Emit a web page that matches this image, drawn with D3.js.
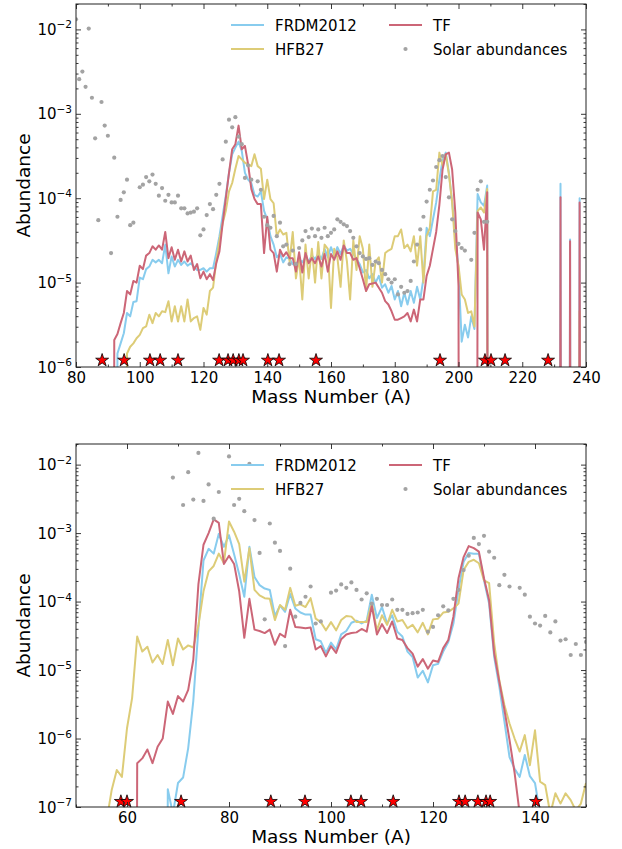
<!DOCTYPE html>
<html><head><meta charset="utf-8">
<script src="https://cdn.jsdelivr.net/npm/d3@7"></script>
<style>body{margin:0;background:#fff}svg{display:block}text{font-family:"DejaVu Sans",sans-serif;fill:#000}</style>
</head><body><svg id="c" width="622" height="849"></svg>
<script>
// ---------- DATA (log10 of abundance; null = zero abundance) ----------
const A_TOP = d3.range(80, 241);
const frdmTop = [
 null,null,null,null,null,null,null,null,null,null,
 null,null,null,-5.84,-5.72,-5.60,-5.36,-5.40,-5.23,-5.22,
 -4.94,-4.96,-4.84,-4.81,-4.73,-4.76,-4.73,-4.77,-4.55,-4.89,
 -4.69,-4.81,-4.73,-4.79,-4.75,-4.80,-4.77,-4.81,-4.85,-4.85,
 -4.83,-4.87,-4.83,-4.83,-4.65,-4.45,-4.21,-3.97,-3.70,-3.48,
 -3.40,-3.33,-3.44,-3.70,-3.78,-3.82,-3.96,-3.98,-3.92,-4.15,
 -4.25,-4.45,-4.55,-4.70,-4.66,-4.76,-4.70,-4.72,-4.78,-4.80,
 -4.72,-4.76,-4.70,-4.75,-4.68,-4.72,-4.66,-4.72,-4.60,-4.70,
 -4.58,-4.68,-4.58,-4.66,-4.56,-4.62,-4.60,-4.66,-4.72,-4.78,
 -4.88,-4.85,-4.95,-4.90,-5.00,-4.92,-5.06,-5.02,-5.12,-5.04,
 -5.20,-5.10,-5.28,-5.12,-5.26,-5.10,-5.24,-5.05,-5.20,-4.95,
 -4.35,-4.45,-4.25,-4.05,-3.78,-3.55,-3.46,-3.70,-4.05,-4.40,
 -4.85,-5.70,-5.50,-5.65,-5.40,-5.55,-3.95,-4.05,-4.09,-3.85,
 null,null,null,null,null,null,null,null,null,null,
 null,null,null,null,null,null,null,null,null,null,
 null,null,-3.83,null,null,-4.49,null,null,-4.00,null,
 null];
const hfbTop = [
 null,null,null,null,null,null,null,null,null,null,
 null,null,null,null,null,null,-5.84,-5.76,-5.72,-5.66,
 -5.62,-5.54,-5.52,-5.38,-5.48,-5.36,-5.40,-5.34,-5.35,-5.22,
 -5.46,-5.28,-5.46,-5.28,-5.46,-5.20,-5.46,-5.42,-5.40,-5.56,
 -5.30,-5.38,-5.10,-5.06,-4.75,-4.50,-4.30,-4.15,-3.92,-3.82,
 -3.65,-3.50,-3.54,-3.58,-3.60,-3.62,-3.48,-3.62,-3.65,-4.01,
 -3.78,-4.01,-4.06,-4.45,-4.37,-4.43,-4.41,-4.75,-4.40,-4.95,
 -4.70,-5.20,-4.55,-4.95,-4.60,-5.00,-4.52,-4.95,-4.55,-4.60,
 -5.30,-4.60,-4.70,-5.05,-4.50,-4.75,-5.20,-4.50,-4.85,-4.45,
 -4.60,-5.10,-4.55,-5.05,-4.75,-4.70,-5.00,-4.65,-4.62,-4.60,
 -4.45,-4.45,-4.37,-4.59,-4.55,-4.63,-4.45,-4.80,-4.45,-5.00,
 -4.45,-4.35,-3.92,-3.90,-3.46,-3.62,-3.48,-3.72,-4.05,-4.60,
 -4.80,-5.14,-5.20,-5.36,-5.34,-5.52,-4.15,-4.11,-4.17,-3.89,
 null,null,null,null,null,null,null,null,null,null,
 null,null,null,null,null,null,null,null,null,null,
 null,null,null,null,null,null,null,null,-5.34,null,
 null];
const tfTop = [
 null,null,null,null,null,null,null,null,null,null,
 null,null,-5.68,-5.61,-5.48,-5.36,-5.10,-5.14,-4.98,-5.00,
 -4.80,-4.84,-4.68,-4.65,-4.57,-4.61,-4.56,-4.61,-4.40,-4.71,
 -4.58,-4.73,-4.61,-4.75,-4.63,-4.75,-4.68,-4.85,-4.78,-4.95,
 -4.87,-4.96,-4.90,-4.97,-4.77,-4.63,-4.30,-4.00,-3.70,-3.42,
 -3.36,-3.14,-3.42,-3.38,-3.60,-3.89,-4.01,-4.07,-4.07,-4.65,
 -4.22,-4.61,-4.65,-4.87,-4.61,-4.69,-4.64,-4.71,-4.71,-4.87,
 -4.64,-4.88,-4.65,-4.77,-4.71,-4.77,-4.69,-4.81,-4.66,-4.87,
 -4.66,-4.73,-4.63,-4.73,-4.56,-4.65,-4.65,-4.73,-4.71,-4.83,
 -4.96,-5.10,-5.02,-5.01,-5.00,-5.06,-5.12,-5.22,-5.26,-5.34,
 -5.44,-5.44,-5.42,-5.40,-5.36,-5.46,-5.32,-5.46,-5.20,-5.20,
 -4.92,-4.80,-4.60,-4.40,-4.08,-3.66,-3.48,-3.46,-3.66,-4.17,
 -5.04,null,null,null,null,null,-4.17,-4.25,-4.61,-3.93,
 null,null,null,null,null,null,null,null,null,null,
 null,null,null,null,null,null,null,null,null,null,
 null,null,-3.99,null,null,-4.51,null,null,-4.05,null,
 null];

const A_BOT = d3.range(50, 151);
const frdmBot = [
 null,null,null,null,null,null,null,null,null,null,
 null,null,null,null,null,null,null,null,-6.74,-7.10,
 -6.65,-6.57,-6.14,-5.45,-4.40,-3.40,-3.23,-3.30,-3.01,-3.20,
 -3.03,-3.31,-3.60,-3.93,-3.20,-3.64,-3.76,-3.81,-3.83,-4.21,
 -4.06,-4.15,-3.89,-4.10,-4.16,-4.19,-4.19,-4.55,-4.58,-4.75,
 -4.60,-4.70,-4.48,-4.43,-4.31,-4.28,-4.32,-4.28,-3.90,-4.24,
 -4.08,-4.32,-4.20,-4.44,-4.51,-4.73,-4.81,-5.11,-5.01,-5.18,
 -4.93,-4.91,-4.73,-4.59,-4.32,-3.83,-3.42,-3.29,-3.30,-3.30,
 -3.69,-4.03,-4.81,-5.24,-5.75,-6.27,-6.44,-6.56,-6.24,-6.55,
 -6.65,-7.10,null,null,null,null,null,null,null,null,
 null];
const hfbBot = [
 null,null,null,null,null,null,-7.20,-6.75,-6.46,-6.56,
 -5.85,-5.41,-4.51,-4.73,-4.66,-4.89,-4.78,-4.91,-4.56,-4.93,
 -4.54,-4.70,-4.64,-4.67,-4.35,-3.85,-3.56,-3.48,-3.30,-3.44,
 -2.83,-2.98,-3.16,-3.71,-3.22,-3.83,-3.91,-3.95,-3.96,-4.27,
 -4.05,-4.12,-3.80,-4.06,-4.04,-4.08,-3.95,-4.25,-4.30,-4.42,
 -4.30,-4.42,-4.27,-4.21,-4.22,-4.30,-4.30,-4.30,-4.02,-4.42,
 -4.20,-4.34,-4.12,-4.29,-4.27,-4.39,-4.34,-4.45,-4.31,-4.48,
 -4.26,-4.25,-4.16,-4.15,-4.10,-4.03,-3.54,-3.42,-3.39,-3.44,
 -3.69,-3.73,-4.61,-5.15,-5.51,-5.78,-6.00,-6.19,-5.95,-6.39,
 -5.88,-6.63,-6.68,-7.10,-6.80,-6.95,-6.80,-6.90,-7.05,-6.95,
 -6.65];
const tfBot = [
 null,null,null,null,null,null,null,null,null,null,
 null,null,-6.36,-6.29,-6.16,-6.36,-6.12,-6.00,-5.46,-5.64,
 -5.38,-5.46,-5.29,-4.85,-3.75,-3.17,-3.00,-2.80,-2.85,-3.45,
 -3.33,-3.45,-3.85,-4.53,-3.96,-4.41,-4.43,-4.46,-4.41,-4.63,
 -4.47,-4.52,-4.12,-4.37,-4.38,-4.39,-4.38,-4.70,-4.65,-4.80,
 -4.65,-4.75,-4.55,-4.48,-4.46,-4.45,-4.40,-4.44,-4.06,-4.48,
 -4.33,-4.46,-4.29,-4.54,-4.56,-4.68,-4.76,-4.95,-4.84,-4.98,
 -4.86,-4.88,-4.68,-4.56,-4.22,-3.66,-3.35,-3.19,-3.22,-3.27,
 -3.66,-3.98,-4.76,-5.17,-5.58,-6.02,-6.50,-7.10,null,null,
 null,null,null,null,null,null,null,null,null,null,
 null];

// Solar abundances (mass number, log10 abundance)
const solarA = [69,71,72,73,74,75,76,77,78,80,81,82,83,84,85,86,87,88,89,90,
 91,92,93,94,95,96,97,98,100,101,102,103,104,105,106,107,108,109,110,
 111,112,113,114,115,116,117,118,119,120,121,122,123,124,125,126,127,128,129,130,
 131,132,133,134,135,137,138,139,140,141,142,143,144,145,146,147,148,149,150,
 151,152,153,154,155,156,157,158,159,160,161,162,163,164,165,166,167,168,169,170,
 171,172,173,174,175,176,177,178,179,180,181,182,183,184,185,186,187,188,189,190,
 191,192,193,194,195,196,197,198,199,200,201,202,204,205,206,207,208,209];
const solarLog = [-2.19,-2.59,-2.11,-2.51,-1.83,-2.53,-2.29,-2.79,-2.40,-1.88,-2.59,-2.50,-2.68,-1.99,-2.81,-3.29,-4.26,-2.86,-3.14,-3.26,
 -4.65,-3.52,-4.22,-4.02,-3.93,-3.78,-4.32,-4.29,-3.87,-3.84,-3.75,-3.80,-3.72,-3.83,-3.97,-3.88,-4.03,-3.96,-4.05,
 -4.05,-3.97,-4.12,-4.12,-4.18,-4.17,-4.16,-4.12,-4.44,-4.37,-4.20,-4.07,-4.13,-3.96,-3.83,-3.54,-3.33,-3.07,-3.16,-3.04,
 -3.27,-3.36,-3.76,-3.61,-3.78,-3.80,-3.90,-4.22,-4.32,-4.35,-4.21,-4.45,-4.29,-4.57,-4.55,-4.78,-4.62,-4.78,-4.59,
 -4.50,-4.39,-4.46,-4.36,-4.45,-4.37,-4.47,-4.35,-4.45,-4.41,-4.37,-4.25,-4.28,-4.31,-4.33,-4.39,-4.47,-4.57,-4.65,-4.69,
 -4.72,-4.71,-4.79,-4.75,-4.77,-4.85,-4.90,-4.96,-5.00,-4.96,-5.14,-5.05,-5.12,-5.10,-4.98,-4.75,-4.55,-4.37,-4.22,-4.04,
 -3.90,-3.79,-3.63,-3.55,-3.50,-3.75,-3.99,-4.25,-4.39,-4.54,-4.59,-4.62,-4.73,-4.41,-3.90,-3.80,-4.28,-4.28];

// star markers (mass numbers)
const starsTop = [88.2,95.1,103.2,106.4,112.0,124.9,127.7,129.3,131.1,132.4,140.2,143.7,155.3,194.2,208.3,210.2,214.6,228.1];
const starsBot = [58.8,60.0,70.6,88.2,94.9,103.9,105.9,112.2,125.1,126.3,128.8,130.4,131.2,140.2];

const xTicksTop = [80,100,120,140,160,180,200,220,240];
const xTicksBot = [60,80,100,120,140];
const yExpTop = [-6,-5,-4,-3,-2];
const yExpBot = [-7,-6,-5,-4,-3,-2];

const COLORS = {frdm:"#88CCEE", hfb:"#DDCC77", tf:"#CC6677", solar:"#a3a3a3"};
const LABELS = {frdm:"FRDM2012", hfb:"HFB27", tf:"TF", solar:"Solar abundances"};

// ---------- DRAW ----------
const svg = d3.select("#c");
const FLOOR = 1e-30;

function panel(cfg, idx){
  const g = svg.append("g");
  const x = d3.scaleLinear().domain(cfg.xdom).range([cfg.left, cfg.right]);
  const y = d3.scaleLog().domain(cfg.ydom).range([cfg.bottom, cfg.top]);
  const cid = "clip"+idx;
  svg.append("clipPath").attr("id", cid).append("rect")
     .attr("x", cfg.left).attr("y", cfg.top).attr("width", cfg.right-cfg.left).attr("height", cfg.bottom-cfg.top);
  const plot = g.append("g").attr("clip-path", `url(#${cid})`);
  const line = d3.line().x(d=>x(d[0])).y(d=>y(d[1]));
  [["frdm",cfg.frdm],["hfb",cfg.hfb],["tf",cfg.tf]].forEach(([k,arr])=>{
    const data = cfg.A.map((a,i)=>[a, arr[i]==null?FLOOR:Math.pow(10,arr[i])]);
    plot.append("path").datum(data).attr("d", line).attr("fill","none")
      .attr("stroke", COLORS[k]).attr("stroke-width", 2).attr("stroke-linejoin","round");
  });
  const sol = solarA.map((a,i)=>[a, Math.pow(10, solarLog[i])])
     .filter(d=>d[0]>=cfg.xdom[0] && d[0]<=cfg.xdom[1] && d[1]<=cfg.ydom[1]);
  plot.selectAll("circle.s").data(sol).enter().append("circle")
     .attr("cx", d=>x(d[0])).attr("cy", d=>y(d[1])).attr("r", 2.1).attr("fill", COLORS.solar);
  // stars
  const star = d3.symbol().type(d3.symbolStar).size(52);
  g.selectAll("path.star").data(cfg.stars).enter().append("path")
    .attr("d", star).attr("transform", d=>`translate(${x(d)},${y(cfg.ydom[0]*1.2)})`)
    .attr("fill","#ff0000").attr("stroke","#000").attr("stroke-width",0.8);

  // axes (ticks inward)
  const minorX = d3.range(cfg.xdom[0], cfg.xdom[1]+1, 10).filter(v=>!cfg.xticks.includes(v));
  const ax = g.append("g").attr("transform",`translate(0,${cfg.bottom})`)
     .call(d3.axisBottom(x).tickValues(cfg.xticks).tickSize(-5).tickPadding(5).tickFormat(d3.format("d")));
  ax.select(".domain").remove();
  ax.selectAll("text").attr("font-size",15).attr("font-family","DejaVu Sans");
  const axm = g.append("g").attr("transform",`translate(0,${cfg.bottom})`)
     .call(d3.axisBottom(x).tickValues(minorX).tickSize(-2.5).tickFormat(""));
  axm.select(".domain").remove();
  [[cfg.xticks,5],[minorX,2.5]].forEach(([vals,len])=>{
    const at = g.append("g").attr("transform",`translate(0,${cfg.top})`)
      .call(d3.axisTop(x).tickValues(vals).tickSize(-len).tickFormat(""));
    at.select(".domain").remove();
  });
  const yMaj = cfg.yexp.map(e=>Math.pow(10,e));
  const yMin = [];
  cfg.yexp.forEach(e=>{ for(let k=2;k<10;k++){ const v=k*Math.pow(10,e); if(v<=cfg.ydom[1]) yMin.push(v);} });
  [[yMaj,5],[yMin,2.5]].forEach(([vals,len])=>{
    const al = g.append("g").attr("transform",`translate(${cfg.left},0)`)
      .call(d3.axisLeft(y).tickValues(vals).tickSize(-len).tickFormat(""));
    al.select(".domain").remove();
    const ar = g.append("g").attr("transform",`translate(${cfg.right},0)`)
      .call(d3.axisRight(y).tickValues(vals).tickSize(-len).tickFormat(""));
    ar.select(".domain").remove();
  });
  g.selectAll(".tick line").attr("stroke","#222").attr("stroke-width",0.9);
  // y labels 10^e
  cfg.yexp.forEach(e=>{
    const t = g.append("text").attr("x", cfg.left-4).attr("y", y(Math.pow(10,e))+5.5)
      .attr("text-anchor","end").attr("font-size",15);
    t.append("tspan").text("10");
    t.append("tspan").attr("font-size",10.5).attr("dy",-6.5).text("\u2212"+Math.abs(e));
  });
  // frame
  g.append("rect").attr("x",cfg.left).attr("y",cfg.top).attr("width",cfg.right-cfg.left)
    .attr("height",cfg.bottom-cfg.top).attr("fill","none").attr("stroke","#222").attr("stroke-width",1);
  // axis labels
  g.append("text").attr("x",(cfg.left+cfg.right)/2).attr("y",cfg.bottom+36)
    .attr("text-anchor","middle").attr("font-size",18.5).text("Mass Number (A)");
  g.append("text").attr("transform",`translate(30,${(cfg.top+cfg.bottom)/2}) rotate(-90)`)
    .attr("text-anchor","middle").attr("font-size",18.5).text("Abundance");
  // legend
  const L = g.append("g");
  const rows = [["frdm",231,cfg.top+21],["hfb",231,cfg.top+45],["tf",389,cfg.top+21],["solar",389,cfg.top+45]];
  rows.forEach(([k,lx,ly])=>{
    if(k==="solar"){
      L.append("circle").attr("cx",lx+16.5).attr("cy",ly).attr("r",2.1).attr("fill",COLORS.solar);
    } else {
      L.append("line").attr("x1",lx).attr("x2",lx+33).attr("y1",ly).attr("y2",ly)
        .attr("stroke",COLORS[k]).attr("stroke-width",2);
    }
    L.append("text").attr("x",lx+44).attr("y",ly+5.5).attr("font-size",15).text(LABELS[k]);
  });
}

panel({A:A_TOP, frdm:frdmTop, hfb:hfbTop, tf:tfTop, stars:starsTop, xdom:[80,240], ydom:[1e-6,2e-2],
  left:76, right:586, top:4, bottom:367, xticks:xTicksTop, yexp:yExpTop}, 0);
panel({A:A_BOT, frdm:frdmBot, hfb:hfbBot, tf:tfBot, stars:starsBot, xdom:[50,150], ydom:[1e-7,2e-2],
  left:76, right:586, top:444, bottom:807, xticks:xTicksBot, yexp:yExpBot}, 1);
</script></body></html>
